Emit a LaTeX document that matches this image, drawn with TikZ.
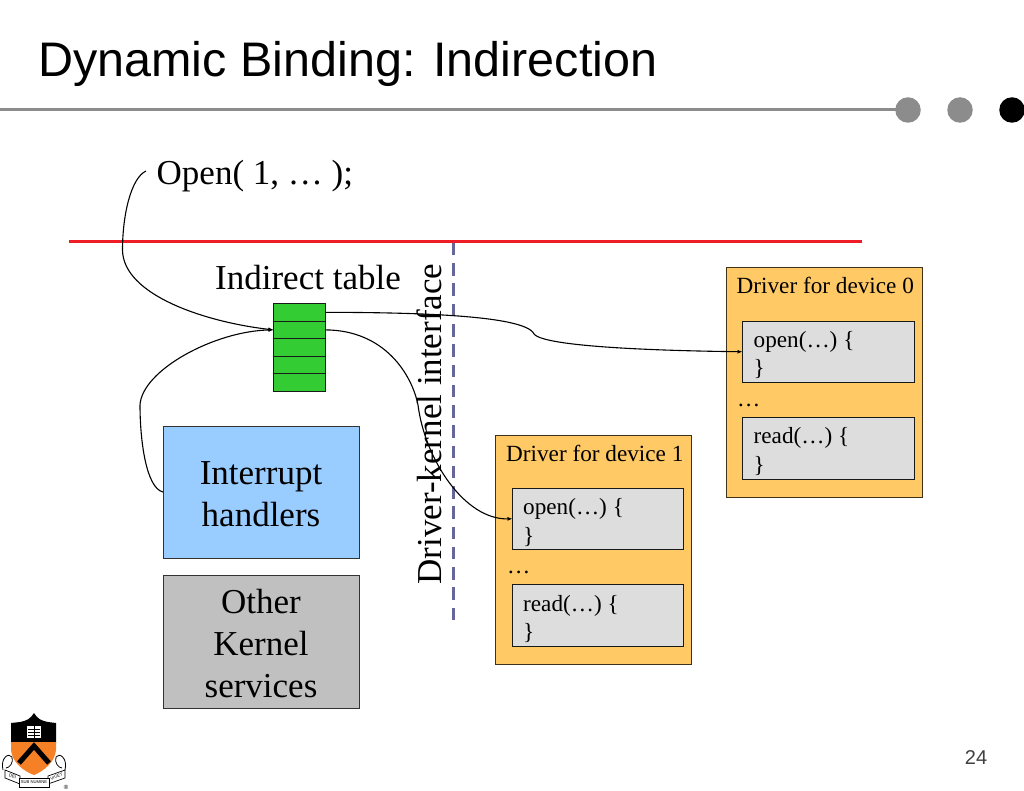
\documentclass[tikz,border=0pt]{standalone}
\usepackage{fontspec}
\setmainfont{Liberation Serif}
\newfontfamily\hv{Liberation Sans}
\usetikzlibrary{arrows.meta}
\definecolor{drv}{HTML}{FFC966}
\definecolor{fn}{HTML}{DDDDDD}
\definecolor{ih}{HTML}{99CCFF}
\definecolor{oks}{HTML}{C0C0C0}
\definecolor{tbl}{HTML}{33CC33}
\definecolor{redl}{HTML}{EE1C25}
\definecolor{dashc}{HTML}{666699}
\definecolor{rule}{HTML}{8C8C8C}
\definecolor{pu}{HTML}{F58025}
\tikzset{
 px/.style={x=1pt,y=-1pt},
 boxed/.style={draw=black!80,line width=1pt,inner sep=0pt,outer sep=0pt,anchor=north west},
 drvbox/.style={boxed,fill=drv,draw=black!75!drv},
 fnbox/.style={boxed,fill=fn,draw=black!90},
 row/.style={boxed,fill=tbl,draw=black!90,minimum width=51.5pt,minimum height=17.6pt},
 big/.style={font=\fontsize{35}{42}\selectfont,align=center,inner sep=0pt},
 small/.style={font=\fontsize{23.2}{29}\selectfont,inner sep=0pt},
 conn/.style={draw=black,line width=1.1pt},
 tip/.style={-{Latex[length=5pt,width=4pt]}},
 dot/.style={circle,inner sep=0pt,minimum size=25.5pt}
}
\newcommand{\rectbox}[6]{\node[#1,minimum width=#4pt,minimum height=#5pt] (#6) at (#2,#3) {};}
\begin{document}
\begin{tikzpicture}[px]
\useasboundingbox (0,0) rectangle (1024,791);
% title and decoration
\node[anchor=base west,inner sep=0pt,font=\hv\fontsize{48.5}{58}\selectfont] (title) at (38,77) {Dynamic Binding: Indirection};
\node[dot,fill=rule] (d1) at (908,110) {};
\node[dot,fill=rule] (d2) at (960,110) {};
\node[dot,fill=black] (d3) at (1012,110) {};
\coordinate (ruleL) at (0,110);
\draw[rule,line width=3pt] (ruleL) -- (d1.center);
\node[anchor=base,inner sep=0pt,font=\hv\fontsize{20}{24}\selectfont,text=black!75] (pg) at (976,764) {24};
% lines
\coordinate (redL) at (69,241.5); \coordinate (redR) at (862,241.5);
\draw[redl,line width=3pt] (redL) -- (redR);
\coordinate (dashT) at (453,243); \coordinate (dashB) at (453,620);
\draw[dashc,line width=3pt,dash pattern=on 12.5pt off 7.75pt] (dashT) -- (dashB);
% boxes
\rectbox{boxed,fill=ih}{163}{426.5}{196}{131.5}{intr}
\node[big] at ([yshift=-2pt]intr.center) {Interrupt\\handlers};
\rectbox{boxed,fill=oks}{163}{575.5}{196}{132.5}{other}
\node[big] at ([yshift=-2pt]other.center) {Other\\Kernel\\services};
% table
\node[row] (r1) at (273.5,303.5) {};
\node[row] (r2) at (273.5,321.1) {};
\node[row] (r3) at (273.5,338.7) {};
\node[row] (r4) at (273.5,356.3) {};
\node[row] (r5) at (273.5,373.9) {};
\node[big,anchor=base] (itab) at (308,289.5) {Indirect table};
\node[big,anchor=base west] (open) at (156.5,185) {Open( 1, … );};
\node[big,anchor=base,rotate=90] (dki) at (441,424) {Driver-kernel interface};
% driver 0
\rectbox{drvbox}{726}{268}{196}{229}{d0}
\node[small,anchor=base west] (d0t) at (736.5,294) {Driver for device 0};
\rectbox{fnbox}{742.5}{321}{171.5}{61.5}{d0o}
\node[small,anchor=base west,align=left] at (753.5,347) {open(…) \{};
\node[small,anchor=base west] at (753.5,375) {\}};
\node[small,anchor=base west] at (737,406) {…};
\rectbox{fnbox}{742.5}{417.5}{171.5}{61.5}{d0r}
\node[small,anchor=base west] at (753.5,443) {read(…) \{};
\node[small,anchor=base west] at (753.5,472) {\}};
% driver 1
\rectbox{drvbox}{495.5}{435}{196}{229}{d1}
\node[small,anchor=base west] (d1t) at (506,461) {Driver for device 1};
\rectbox{fnbox}{512.5}{488}{170.5}{61.5}{d1o}
\node[small,anchor=base west] at (523,514) {open(…) \{};
\node[small,anchor=base west] at (523,543) {\}};
\node[small,anchor=base west] at (507,573) {…};
\rectbox{fnbox}{512.5}{584.5}{170.5}{61.5}{d1r}
\node[small,anchor=base west] at (523,611) {read(…) \{};
\node[small,anchor=base west] at (523,639) {\}};
% connectors
\coordinate (openS) at (146,171);
\coordinate (openB) at (122.5,250);
\draw[conn,tip] (openS) .. controls (131,178) and (122.5,215) .. (openB) .. controls (123,295) and (205,322) .. (r2.west);
\coordinate (intS) at (163,492);
\coordinate (intB) at (140,405);
\draw[conn,tip] (intS) .. controls (146,488) and (140,440) .. (intB) .. controls (142,370) and (215,331) .. (r2.west);
\coordinate (kink) at (534,334);
\draw[conn,tip] (r1.east) .. controls (400,312.5) and (525,314) .. (kink) .. controls (545,348) and (680,351) .. (d0o.west);
\coordinate (bend) at (418,405);
\draw[conn,tip] (r2.east) .. controls (385,330) and (412,375) .. (bend) .. controls (425,460) and (465,520) .. (d1o.west);
% crest
\fill[black] (11,723) -- (20,722) .. controls (27,721) and (31,718) .. (34,713) .. controls (37,718) and (41,721) .. (48,722) -- (56,723) -- (56,742) -- (11,742) -- cycle;
\fill[pu] (11,742) -- (56,742) -- (56,750) .. controls (55,762) and (44,771) .. (34,775) .. controls (23,771) and (12,762) .. (11,750) -- cycle;
\draw[black,line width=5pt] (19,763) -- (34,746) -- (49,763);
\fill[white] (27,726) rectangle (41,738);
\draw[black,line width=.7pt] (34,726) -- (34,738) (28,729) -- (40,729) (28,732) -- (40,732) (28,735) -- (40,735);
\draw[black,line width=.8pt,fill=white] (3,770) .. controls (0,758) and (9,752) .. (12,757) .. controls (14,763) and (9,768) .. (6,768);
\draw[black,line width=.8pt,fill=white] (65,770) .. controls (68,758) and (59,752) .. (56,757) .. controls (54,763) and (59,768) .. (62,768);
\draw[black,line width=.7pt,fill=white] (5,770) -- (20,776) -- (20,784) -- (5,778) -- cycle;
\draw[black,line width=.7pt,fill=white] (48,776) -- (65,770) -- (65,778) -- (48,784) -- cycle;
\draw[black,line width=.7pt,fill=white] (19,778) rectangle (49,787);
\node[inner sep=0pt,font=\hv\fontsize{4.4}{5}\selectfont,rotate=-20] at (12.5,776.5) {DEI};
\node[inner sep=0pt,font=\hv\fontsize{4.2}{5}\selectfont] at (34,782.5) {SUB NUMINE};
\node[inner sep=0pt,font=\hv\fontsize{4.2}{5}\selectfont,rotate=20] at (56.5,776.5) {VIGET};
\node[inner sep=0pt,font=\hv\fontsize{6}{7}\selectfont] at (66,787) {®};
\end{tikzpicture}
\end{document}
